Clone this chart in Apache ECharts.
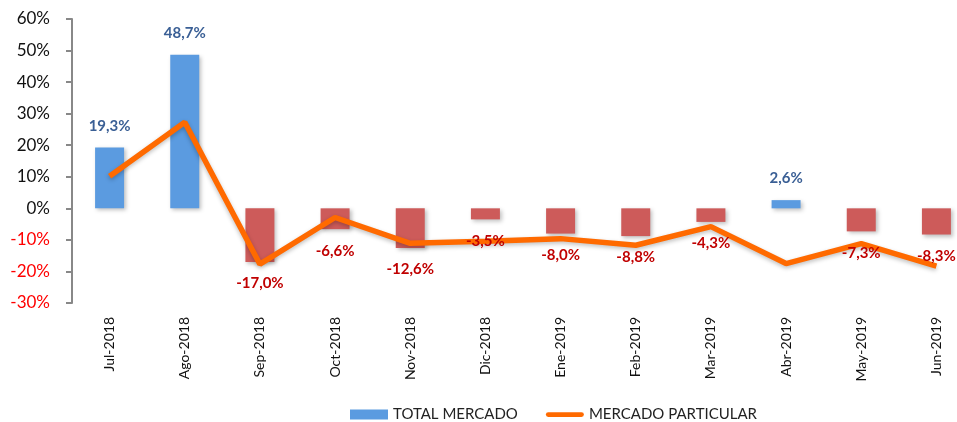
<!DOCTYPE html>
<html>
<head>
<meta charset="utf-8">
<script src="https://cdn.jsdelivr.net/npm/echarts@6/dist/echarts.min.js"></script>
<style>
  html, body { margin: 0; padding: 0; background: #fff; overflow: hidden; }
  /* plot area runs a little past the right edge, as in the original */
  #chart { width: 974px; height: 422px; }
</style>
</head>
<body>
<div id="chart"></div>
<script>
const months = ['Jul-2018', 'Ago-2018', 'Sep-2018', 'Oct-2018', 'Nov-2018', 'Dic-2018',
  'Ene-2019', 'Feb-2019', 'Mar-2019', 'Abr-2019', 'May-2019', 'Jun-2019'];
const totalMercado = [19.3, 48.7, -17.0, -6.6, -12.6, -3.5, -8.0, -8.8, -4.3, 2.6, -7.3, -8.3];
const mercadoParticular = [10.2, 27.3, -17.7, -2.9, -11.1, -10.4, -9.6, -11.7, -5.8, -17.5, -11.2, -18.3];

const FONT = 'Lato, "Open Sans", sans-serif';
const fmt = v => v.toFixed(1).replace('.', ',') + '%';

// bars: blue when positive, red when negative
const barData = totalMercado.map(v => ({
  value: v,
  itemStyle: { color: v >= 0 ? '#5b9be0' : '#cd5b5a' }
}));

// same values again, transparent, only to carry the labels above the line
const labelData = totalMercado.map(v => ({
  value: v,
  label: {
    position: v >= 0 ? 'top' : 'bottom',
    distance: 14,
    color: v >= 0 ? '#3a5f95' : '#c00000'
  }
}));

const chart = echarts.init(document.getElementById('chart'));
chart.setOption({
  animation: false,
  textStyle: { fontFamily: FONT },
  grid: { left: 72, top: 19, right: 0, bottom: 119 },
  legend: {
    left: 345, top: 402,
    itemWidth: 38, itemHeight: 10, itemGap: 28,
    textStyle: { fontSize: 15, color: '#222', fontFamily: FONT },
    data: [
      { name: 'TOTAL MERCADO', icon: 'rect', itemStyle: { color: '#5b9be0' } },
      { name: 'MERCADO PARTICULAR',
        icon: 'path://M2.5,0 L37.5,0 A2.5,2.5 0 0 1 37.5,5 L2.5,5 A2.5,2.5 0 0 1 2.5,0 Z',
        itemStyle: { color: '#ff6a00' } }
    ]
  },
  xAxis: {
    type: 'category',
    data: months,
    axisLine: { show: false },
    axisTick: { show: false },
    axisLabel: { rotate: 90, margin: 14, fontSize: 14, color: '#111', fontFamily: FONT }
  },
  yAxis: {
    type: 'value',
    min: -30, max: 60, interval: 10,
    splitLine: { show: false },
    axisLine: { show: true, lineStyle: { color: '#888', width: 2 } },
    axisTick: { show: true, length: 6, lineStyle: { color: '#888', width: 2 } },
    axisLabel: {
      margin: 22, fontSize: 17, fontFamily: FONT,
      formatter: '{value}%',
      color: v => (v < 0 ? '#ff0000' : '#111')
    }
  },
  series: [
    {
      name: 'TOTAL MERCADO',
      type: 'bar',
      barWidth: 29,
      barGap: '-100%',
      z: 1,
      data: barData,
      itemStyle: { shadowBlur: 4, shadowColor: 'rgba(0,0,0,0.25)', shadowOffsetX: 2, shadowOffsetY: 2 }
    },
    {
      name: 'MERCADO PARTICULAR',
      type: 'line',
      data: mercadoParticular,
      symbol: 'none',
      z: 2,
      itemStyle: { color: '#ff6a00' },
      lineStyle: { width: 5.5, color: '#ff6a00', shadowBlur: 4, shadowColor: 'rgba(0,0,0,0.25)', shadowOffsetY: 2 }
    },
    {
      name: 'labels',
      type: 'bar',
      barWidth: 29,
      barGap: '-100%',
      z: 3,
      silent: true,
      data: labelData,
      itemStyle: { color: 'rgba(0,0,0,0)' },
      label: {
        show: true, fontSize: 15, fontWeight: 'bold', fontFamily: FONT,
        formatter: p => fmt(p.value)
      }
    }
  ]
});
</script>
</body>
</html>
